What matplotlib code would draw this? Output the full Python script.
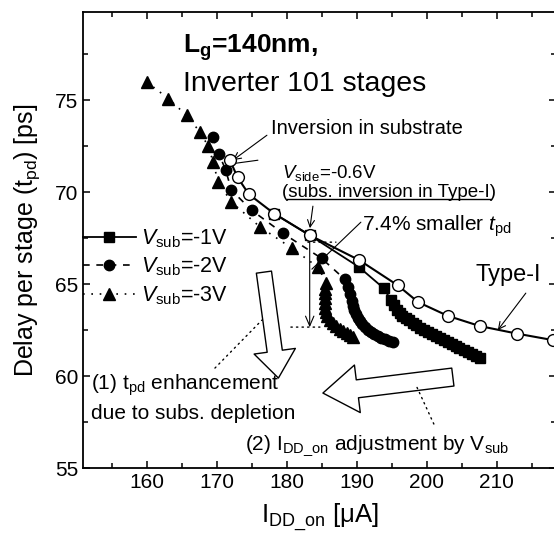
import matplotlib
matplotlib.use('Agg')
import matplotlib.pyplot as plt
from matplotlib.ticker import MultipleLocator
from matplotlib.lines import Line2D

plt.rcParams['font.family'] = ['Liberation Sans', 'DejaVu Sans']
plt.rcParams['mathtext.fontset'] = 'custom'
plt.rcParams['mathtext.rm'] = 'Liberation Sans'
plt.rcParams['mathtext.it'] = 'Liberation Sans:italic'
plt.rcParams['mathtext.bf'] = 'Liberation Sans:bold'

# Type-I (open circles)
typeI_x = [171.9, 173.0, 174.6, 178.2, 183.3, 190.4, 195.9, 198.8, 203.0, 207.6, 212.9, 218.0]
typeI_y = [71.74, 70.80, 69.89, 68.84, 67.66, 66.30, 64.93, 64.02, 63.28, 62.72, 62.31, 61.96]

# Vsub = -1V (squares)
v1_x = [178.2, 183.3, 190.3, 193.9, 194.9, 195.4, 195.8, 196.2, 196.5, 197.0, 197.5, 198.0,
        198.5, 199.0, 199.6, 200.2, 200.8, 201.3, 201.9, 202.5, 203.0, 203.6, 204.2, 204.7,
        205.3, 205.9, 206.5, 207.0, 207.6]
v1_y = [68.84, 67.66, 65.94, 64.77, 64.13, 63.85, 63.59, 63.42, 63.26, 63.15, 63.04, 62.90,
        62.77, 62.63, 62.50, 62.39, 62.28, 62.17, 62.07, 61.96, 61.85, 61.74, 61.63, 61.52,
        61.41, 61.30, 61.20, 61.08, 60.96]

# Vsub = -2V (filled circles)
v2_x = [169.5, 170.3, 171.3, 172.1, 175.0, 179.5, 185.0, 188.3, 188.8, 189.1, 189.3, 189.5,
        189.7, 189.9, 190.2, 190.5, 190.8, 191.2, 191.6, 192.0, 192.5, 193.0, 193.5, 194.0,
        194.6, 195.2]
v2_y = [73.01, 72.10, 71.20, 70.11, 69.02, 67.76, 66.40, 65.27, 64.85, 64.46, 64.10, 63.80,
        63.58, 63.37, 63.17, 62.99, 62.82, 62.66, 62.52, 62.39, 62.27, 62.17, 62.09, 62.01,
        61.93, 61.85]

# Vsub = -3V (triangles)
v3_x = [160.0, 163.1, 165.7, 167.6, 168.8, 169.5, 170.2, 172.1, 176.2, 180.8, 184.5,
        185.7, 185.5, 185.5, 185.5, 185.5, 185.5, 185.6, 185.8, 186.2, 186.6, 187.1,
        187.6, 188.1, 188.6, 189.1, 189.5]
v3_y = [76.00, 75.09, 74.18, 73.28, 72.50, 71.65, 70.56, 69.47, 68.11, 66.94, 65.92,
        65.05, 64.75, 64.51, 64.25, 63.97, 63.72, 63.48, 63.25, 63.04, 62.88, 62.72,
        62.58, 62.45, 62.33, 62.23, 62.10]

XMIN, XMAX = 150.9, 218.5
YMIN, YMAX = 55, 79.8


def P(px, py):
    # pixel position in the 554x537 picture -> data coords (for annotations)
    return (XMIN + (px - 83) / 7.0, YMIN + (468 - py) / 18.4)


fig = plt.figure(figsize=(5.54, 5.37), dpi=100)
ax = fig.add_axes([83 / 554, 1 - 468 / 537, (556 - 83) / 554, (468 - 12) / 537])

ax.plot(v3_x, v3_y, color='black', ls=(0, (1, 4)), lw=1.2, marker='^', ms=8.5, zorder=3)
ax.plot(v2_x, v2_y, color='black', ls=(0, (4, 4)), lw=1.2, marker='o', ms=7.5, zorder=4)
ax.plot(v1_x, v1_y, color='black', ls='-', lw=1.3, marker='s', ms=6.5, zorder=5)
ax.plot(typeI_x, typeI_y, color='black', ls='-', lw=1.5, marker='o', ms=8.5,
        mfc='white', mec='black', mew=1.0, zorder=6)

h1 = Line2D([], [], color='black', ls='-', lw=1.3, marker='s', ms=6.5)
h2 = Line2D([], [], color='black', ls=(0, (4, 4)), lw=1.2, marker='o', ms=7.5)
h3 = Line2D([], [], color='black', ls=(0, (1, 4)), lw=1.2, marker='^', ms=8.5)
ax.legend([h1, h2, h3],
          [r'$V_{\mathrm{sub}}$=-1V', r'$V_{\mathrm{sub}}$=-2V', r'$V_{\mathrm{sub}}$=-3V'],
          loc='upper left', bbox_to_anchor=(0.0, 0.528), frameon=False, fontsize=15.5,
          handlelength=2.45, handletextpad=0.25, borderaxespad=0, borderpad=0,
          labelspacing=0.27, numpoints=1)

ax.set_xlim(XMIN, XMAX)
ax.set_ylim(YMIN, YMAX)
ax.xaxis.set_major_locator(MultipleLocator(10))
ax.xaxis.set_minor_locator(MultipleLocator(5))
ax.yaxis.set_major_locator(MultipleLocator(5))
ax.yaxis.set_minor_locator(MultipleLocator(2.5))
ax.tick_params(which='both', direction='in', top=True, right=True, labelsize=15, width=1.1)
ax.tick_params(which='major', length=5)
ax.tick_params(which='minor', length=3.5)
for s in ax.spines.values():
    s.set_linewidth(1.3)

ax.set_xlabel(r'$\mathrm{I}_{\mathrm{DD\_on}}$ [μA]', fontsize=18.5, labelpad=7)
ax.set_ylabel(r'Delay per stage ($\mathrm{t}_{\mathrm{pd}}$) [ps]', fontsize=18, labelpad=9)

# titles
ax.text(*P(183, 47), r'$\mathbf{L_g}$=140nm,', fontsize=19, fontweight='bold', va='center')
ax.text(*P(183, 84), 'Inverter 101 stages', fontsize=20.5, va='center')

# inversion in substrate
ax.text(*P(271, 128), 'Inversion in substrate', fontsize=14.5, va='center')
arr = dict(arrowstyle='->,head_length=0.5,head_width=0.25', lw=0.8, color='black',
           shrinkA=0, shrinkB=0)
ax.annotate('', xy=P(233, 160), xytext=P(267, 135), arrowprops=arr)
ax.annotate('', xy=P(236, 163), xytext=P(258, 160),
            arrowprops=dict(arrowstyle='-', lw=0.8, color='black', shrinkA=0, shrinkB=0))

ax.text(*P(282, 173), r'$V_{\mathrm{side}}$=-0.6V', fontsize=13.5, va='center')
t_sub = ax.text(*P(282, 192), '(subs. inversion in Type-I)', fontsize=13.5, va='center')
ax.annotate('', xy=P(310, 228), xytext=P(313, 206), arrowprops=arr)

# 7.4 % smaller tpd
ax.text(*P(362, 226), r'7.4% smaller $t_{\mathrm{pd}}$', fontsize=15, va='center')
ax.annotate('', xy=P(312, 269), xytext=P(361, 222),
            arrowprops=dict(arrowstyle='-', lw=0.8, color='black', shrinkA=0, shrinkB=0))
ax.annotate('', xy=(typeI_x[4], typeI_y[4] * (1 - 0.074)), xytext=(typeI_x[4], typeI_y[4]),
            arrowprops=dict(arrowstyle='->,head_length=0.7,head_width=0.3', lw=0.8,
                            color='black', shrinkA=0, shrinkB=0))
dot = dict(arrowstyle='-', ls=(0, (1, 3)), lw=1.0, color='black', shrinkA=0, shrinkB=0)
ax.annotate('', xy=P(336, 242), xytext=P(308, 242), arrowprops=dot)
ax.annotate('', xy=P(320, 327), xytext=P(291, 327), arrowprops=dot)

# Type-I label
ax.text(*P(476, 275), 'Type-I', fontsize=17, va='center')
ax.annotate('', xy=P(498, 330), xytext=P(526, 293), arrowprops=arr)

# big hollow arrows
ax.annotate('', xy=P(278.5, 378), xytext=P(264, 272),
            arrowprops=dict(arrowstyle='simple,head_length=1.95,head_width=3.0,tail_width=1.1',
                            fc='white', ec='black', lw=1.0, mutation_scale=10,
                            shrinkA=0, shrinkB=0))
ax.annotate('', xy=P(323, 393), xytext=P(453, 377),
            arrowprops=dict(arrowstyle='simple,head_length=2.5,head_width=3.45,tail_width=1.3',
                            fc='white', ec='black', lw=1.0, mutation_scale=10,
                            shrinkA=0, shrinkB=0))

# (1) and (2) notes
ax.text(*P(91, 385), r'(1) $\mathrm{t}_{\mathrm{pd}}$ enhancement', fontsize=15, va='center')
ax.text(*P(91, 413), 'due to subs. depletion', fontsize=15, va='center')
ax.annotate('', xy=P(262, 320), xytext=P(215, 368), arrowprops=dot)
ax.text(*P(245, 446), r'(2) $\mathrm{I}_{\mathrm{DD\_on}}$ adjustment by $\mathrm{V}_{\mathrm{sub}}$',
        fontsize=15, va='center')
ax.annotate('', xy=P(417, 387), xytext=P(434, 424), arrowprops=dot)

# underline for the Type-I inversion note
fig.canvas.draw()
bb = t_sub.get_window_extent()
fig.add_artist(Line2D([bb.x0 + 5, bb.x1 - 5], [bb.y0 + 2, bb.y0 + 2], transform=None,
                      color='black', lw=1.0))

fig.savefig('out.png', dpi=100)
